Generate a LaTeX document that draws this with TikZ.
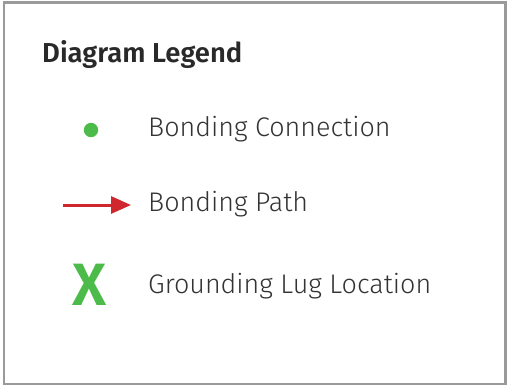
\documentclass[tikz,border=0pt]{standalone}
\usepackage{fontspec}
\setmainfont{Fira Sans}[UprightFont=* Light, BoldFont=* SemiBold]
\usetikzlibrary{arrows.meta}
\definecolor{frame}{HTML}{9A9A9A}
\definecolor{bondgreen}{HTML}{4DBB4A}
\definecolor{bondred}{HTML}{D0262D}
\definecolor{txt}{HTML}{333333}
\tikzset{
  lbl/.style={anchor=base west, inner sep=0pt, text=txt, font=\fontsize{27}{31}\selectfont},
  ttl/.style={anchor=base west, inner sep=0pt, text=txt!80!black, font=\fontsize{27.5}{31}\selectfont\bfseries},
}
\begin{document}
\begin{tikzpicture}[x=1bp,y=-1bp]
\useasboundingbox (0,0) rectangle (507,387);
\draw[frame, line width=2.2bp] (4,2.5) rectangle (505.5,384) ;
\node[ttl] (title) at (42,62) {Diagram Legend};
\fill[bondgreen] (91,130) circle (7.2) coordinate (dot);
\node[lbl] (t1) at (148,136) {Bonding Connection};
\coordinate (a0) at (63,205);
\coordinate (a1) at (131,205);
\draw[bondred, line width=3bp, -{Triangle[length=20bp,width=17bp]}] (a0) -- (a1);
\node[lbl] (t2) at (148,211) {Bonding Path};
\node[anchor=base, inner sep=0pt, text=bondgreen, font=\fontsize{60}{60}\selectfont\bfseries] (x) at (90,305) {X};
\node[lbl] (t3) at (148,293) {Grounding Lug Location};
\end{tikzpicture}
\end{document}
